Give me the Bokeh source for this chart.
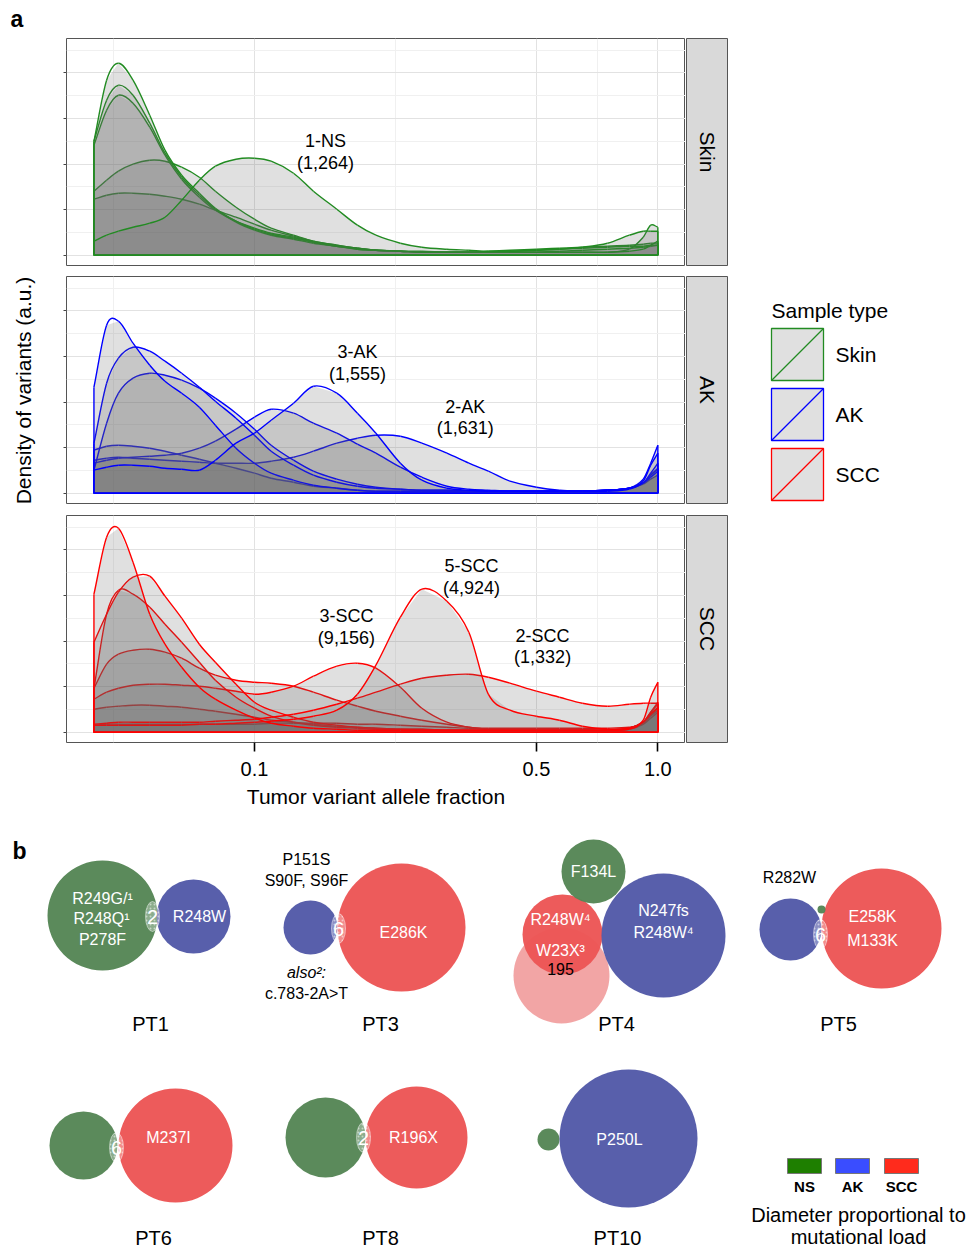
import math
from bokeh.plotting import figure
from bokeh.layouts import row, column
from bokeh.models import Range1d, FixedTicker, Grid, LinearAxis, LogAxis, CustomJSTickFormatter
from bokeh.embed import file_html
from bokeh.resources import INLINE
from bokeh.core.properties import value

FONT = "Liberation Sans"

# ---------------- panel a data (density in arbitrary units) ----------------
vaf_grid = [0.040, 0.043, 0.046, 0.050, 0.055, 0.060, 0.066, 0.073, 0.080, 0.090,
            0.100, 0.110, 0.125, 0.140, 0.160, 0.180, 0.200, 0.230, 0.260, 0.300,
            0.340, 0.380, 0.430, 0.500, 0.570, 0.650, 0.750, 0.850, 0.920, 0.960, 1.000]

skin_a = [14, 20, 24, 28, 32, 38, 55, 75, 89, 96, 97, 94, 82, 64, 46, 30, 20, 12, 8, 6, 5, 4, 4, 5, 6, 8, 12, 20, 24, 24, 24]
skin_b = [114, 175, 192, 175, 140, 105, 80, 62, 47, 34, 26, 21, 17, 13, 9, 6, 5, 4, 3, 3, 3, 3, 3, 3, 3, 3, 3, 4, 6, 10, 14]
skin_c = [114, 155, 170, 160, 132, 102, 78, 60, 46, 33, 25, 20, 16, 12, 9, 6, 5, 4, 4, 3, 3, 3, 3, 3, 4, 5, 6, 7, 8, 9, 10]
skin_d = [110, 145, 160, 152, 128, 100, 76, 58, 45, 34, 27, 22, 18, 13, 9, 7, 5, 4, 3, 3, 3, 3, 4, 5, 6, 7, 8, 9, 9, 10, 10]
skin_e = [64, 75, 84, 91, 95, 94, 88, 78, 64, 48, 36, 27, 20, 14, 10, 7, 5, 4, 3, 3, 3, 3, 3, 3, 3, 3, 3, 6, 18, 30, 28]
skin_f = [56, 60, 62, 62, 61, 59, 56, 51, 45, 38, 31, 25, 19, 14, 10, 7, 5, 4, 3, 3, 3, 4, 5, 6, 7, 8, 9, 10, 11, 12, 12]

ak_a = [106, 168, 172, 150, 128, 112, 100, 86, 68, 45, 30, 20, 13, 8, 5, 3, 2, 2, 2, 2, 2, 2, 2, 2, 2, 2, 3, 5, 10, 16, 22]
ak_b = [50, 110, 135, 146, 142, 132, 120, 106, 92, 75, 58, 42, 28, 18, 11, 7, 5, 4, 3, 3, 2, 2, 2, 2, 2, 2, 3, 5, 10, 20, 30]
ak_c = [23, 70, 100, 115, 120, 118, 113, 105, 95, 80, 64, 48, 33, 22, 14, 9, 6, 4, 3, 3, 2, 2, 2, 2, 2, 2, 3, 5, 10, 18, 25]
ak_d = [23, 26, 28, 28, 27, 25, 24, 23, 33, 50, 60, 73, 90, 107, 100, 80, 60, 30, 13, 5, 3, 2, 2, 2, 2, 2, 2, 4, 12, 28, 40]
ak_e = [30, 33, 35, 36, 37, 38, 40, 45, 52, 64, 76, 84, 80, 70, 60, 49, 40, 26, 16, 7, 4, 3, 2, 2, 2, 2, 3, 5, 10, 18, 24]
ak_f = [33, 35, 36, 35, 34, 33, 32, 31, 30, 30, 30, 32, 36, 42, 50, 55, 58, 57, 50, 40, 30, 22, 12, 6, 3, 2, 3, 5, 14, 30, 48]
ak_g = [43, 47, 48, 47, 45, 42, 38, 34, 30, 25, 20, 15, 11, 7, 5, 3, 2, 2, 2, 2, 2, 2, 2, 2, 2, 2, 3, 5, 9, 14, 18]

scc_a = [138, 195, 204, 170, 118, 88, 65, 45, 33, 22, 14, 9, 6, 4, 3, 2, 2, 2, 2, 2, 2, 2, 2, 2, 2, 2, 2, 3, 12, 35, 50]
scc_b = [90, 118, 140, 155, 156, 136, 114, 88, 70, 48, 30, 22, 15, 10, 7, 5, 4, 3, 3, 2, 2, 2, 2, 2, 2, 2, 2, 4, 10, 18, 25]
scc_c = [44, 118, 142, 138, 125, 108, 90, 70, 52, 35, 24, 16, 10, 7, 5, 4, 3, 3, 2, 2, 2, 2, 2, 2, 2, 2, 2, 4, 10, 20, 28]
scc_d = [44, 68, 78, 82, 83, 80, 74, 64, 57, 52, 50, 49, 46, 40, 32, 26, 21, 16, 12, 8, 5, 3, 2, 2, 2, 2, 2, 4, 10, 20, 30]
scc_e = [33, 40, 44, 47, 48, 48, 47, 46, 44, 41, 38, 40, 46, 56, 66, 69, 64, 45, 24, 10, 5, 3, 2, 2, 2, 2, 2, 4, 10, 18, 24]
scc_f = [7, 7, 7, 7, 7, 7, 7, 8, 8, 9, 10, 11, 13, 16, 22, 38, 67, 115, 143, 131, 100, 38, 22, 16, 12, 6, 3, 4, 10, 18, 24]
scc_g = [8, 9, 10, 10, 10, 10, 10, 10, 11, 12, 13, 15, 18, 22, 28, 34, 40, 48, 54, 57, 58, 55, 49, 41, 35, 29, 26, 28, 29, 29, 29]
scc_i = [23, 25, 26, 27, 27, 26, 25, 23, 21, 18, 15, 12, 10, 8, 6, 5, 4, 3, 3, 2, 2, 2, 2, 2, 2, 2, 2, 3, 8, 16, 22]
scc_j = [7, 8, 8, 8, 8, 8, 8, 8, 8, 8, 8, 9, 9, 9, 9, 8, 8, 7, 6, 5, 4, 4, 4, 4, 4, 4, 4, 5, 8, 14, 20]

skin_curves = [skin_f, skin_e, skin_d, skin_c, skin_b, skin_a]
ak_curves = [ak_g, ak_f, ak_e, ak_c, ak_b, ak_a, ak_d]
scc_curves = [scc_j, scc_i, scc_d, scc_e, scc_c, scc_b, scc_g, scc_f, scc_a]

sample_types = ["Skin", "AK", "SCC"]
sample_colors = ["#228b22", "#0000ff", "#ff0000"]

skin_labels = ["1-NS", "(1,264)"]
skin_label_vaf = [0.150, 0.150]
skin_label_density = [114, 92]
ak_labels = ["3-AK", "(1,555)", "2-AK", "(1,631)"]
ak_label_vaf = [0.180, 0.180, 0.333, 0.333]
ak_label_density = [141, 119, 86, 65]
scc_labels = ["5-SCC", "(4,924)", "3-SCC", "(9,156)", "2-SCC", "(1,332)"]
scc_label_vaf = [0.345, 0.345, 0.169, 0.169, 0.518, 0.518]
scc_label_density = [166, 144, 116, 94, 96, 75]

x_major = [0.1, 0.5, 1.0]
x_minor = [0.0447, 0.2236, 0.7071]
y_major = [0, 45.6, 91.2, 136.8, 182.4]
y_minor = [22.8, 68.4, 114.0, 159.6, 205.2]

# ---------------- panel b data ----------------
venn_patient = ["PT1", "PT1", "PT3", "PT3", "PT4", "PT4", "PT4", "PT4", "PT5", "PT5", "PT5",
                "PT6", "PT6", "PT8", "PT8", "PT10", "PT10"]
venn_sample = ["NS", "AK", "AK", "SCC", "SCC2", "SCC", "NS", "AK", "AK", "SCC", "NS",
               "NS", "SCC", "NS", "SCC", "NS", "AK"]
venn_diameter = [110, 74, 54, 128, 96, 80, 64, 124, 62, 120, 8, 68, 114, 80, 102, 22, 138]
venn_cx = [102, 193, 310, 401, 561, 562, 593, 663, 790, 881, 821, 83, 175, 325, 416, 548, 628]
venn_cy = [915, 916, 927, 927, 975, 934, 871, 935, 929, 928, 909, 1145, 1145, 1137, 1137, 1139, 1138]
venn_colors = {"NS": "#568656", "AK": "#535aa8", "SCC": "#ec5656", "SCC2": "#f2a2a2"}

shared_counts = ["2", "6", "6", "6", "2"]
shared_x = [152, 338, 820, 116, 363]
shared_y = [916, 928, 934, 1147, 1137]

mut_text = ["R249G/\u00b9", "R248Q\u00b9", "P278F", "R248W", "E286K", "F134L", "R248W\u2074",
            "W23X\u00b3", "N247fs", "R248W\u2074", "E258K", "M133K", "M237I", "R196X", "P250L"]
mut_x = [102, 101, 102, 199, 403, 593, 560, 560, 663, 663, 872, 872, 168, 413, 619]
mut_y = [898, 918, 939, 916, 932, 871, 919, 950, 910, 932, 916, 940, 1137, 1137, 1139]

note_text = ["P151S", "S90F, S96F", "c.783-2A>T", "R282W", "195"]
note_x = [306, 306, 306, 789, 560]
note_y = [859, 880, 993, 877, 968]

pt_names = ["PT1", "PT3", "PT4", "PT5", "PT6", "PT8", "PT10"]
pt_x = [150, 380, 616, 838, 153, 380, 617]
pt_y = [1023, 1023, 1023, 1023, 1237, 1237, 1237]

load_types = ["NS", "AK", "SCC"]
load_colors = ["#1e7f00", "#3a4dff", "#ff2b1c"]
load_x = [804, 852, 901]


def base_fig(width, height, xr, yr, **kw):
    p = figure(width=width, height=height, x_range=xr, y_range=yr,
               x_axis_location=None, y_axis_location=None,
               toolbar_location=None, output_backend="svg", **kw)
    p.grid.visible = False
    return p


def hermite_beziers(xs, ys):
    """Smooth rendering of the read points (cubic Hermite drawn as Bezier glyphs, in log-x)."""
    lx = [math.log10(v) for v in xs]
    n = len(lx)
    m = []
    for i in range(n):
        if i == 0:
            m.append((ys[1] - ys[0]) / (lx[1] - lx[0]))
        elif i == n - 1:
            m.append((ys[-1] - ys[-2]) / (lx[-1] - lx[-2]))
        else:
            m.append((ys[i + 1] - ys[i - 1]) / (lx[i + 1] - lx[i - 1]))
    seg = dict(x0=[], y0=[], x1=[], y1=[], cx0=[], cy0=[], cx1=[], cy1=[])
    for i in range(n - 1):
        h = lx[i + 1] - lx[i]
        seg["x0"].append(xs[i]); seg["y0"].append(ys[i])
        seg["x1"].append(xs[i + 1]); seg["y1"].append(ys[i + 1])
        seg["cx0"].append(10 ** (lx[i] + h / 3)); seg["cy0"].append(max(0, ys[i] + m[i] * h / 3))
        seg["cx1"].append(10 ** (lx[i + 1] - h / 3)); seg["cy1"].append(max(0, ys[i + 1] - m[i + 1] * h / 3))
    return seg


def facet(curves, color, labels, lx, ly, top, bottom, with_xaxis):
    p = figure(width=631, height=top + 227 + bottom, x_axis_type="log",
               x_axis_location=None, y_axis_location=None,
               x_range=Range1d(0.0342, 1.171), y_range=Range1d(-10.3, 216.7),
               toolbar_location=None, output_backend="svg",
               min_border_left=12, min_border_right=0,
               min_border_top=top, min_border_bottom=bottom,
               outline_line_color="#555555", outline_line_width=1)
    p.grid.visible = False
    xt = FixedTicker(ticks=x_major, minor_ticks=x_minor)
    yt = FixedTicker(ticks=y_major, minor_ticks=y_minor)
    p.add_layout(Grid(dimension=0, ticker=xt, grid_line_color="#e2e2e2",
                      minor_grid_line_color="#f0f0f0"))
    p.add_layout(Grid(dimension=1, ticker=yt, grid_line_color="#e2e2e2",
                      minor_grid_line_color="#f0f0f0"))
    yax = LinearAxis(ticker=yt, formatter=CustomJSTickFormatter(code="return ''"),
                     major_tick_out=3, major_tick_in=0, minor_tick_out=0, minor_tick_in=0,
                     axis_line_color=None, major_label_standoff=0,
                     major_tick_line_color="#444444")
    p.add_layout(yax, "left")
    for c in curves:
        xs = vaf_grid + [vaf_grid[-1], vaf_grid[0]]
        ys = c + [0, 0]
        p.patch(xs, ys, fill_color="#666666", fill_alpha=0.2, line_color=None)
        p.bezier(line_color=color, line_width=1.4, **hermite_beziers(vaf_grid, c))
        p.segment(x0=[vaf_grid[0], vaf_grid[-1], vaf_grid[0]], y0=[0, 0, 0],
                  x1=[vaf_grid[0], vaf_grid[-1], vaf_grid[-1]], y1=[c[0], c[-1], 0],
                  line_color=color, line_width=1.4)
    p.text(x=lx, y=ly, text=labels, text_align="center", text_baseline="middle",
           text_font=value(FONT), text_font_size="18px", text_color="black")
    if with_xaxis:
        ax = LogAxis(ticker=xt, formatter=CustomJSTickFormatter(code="return tick.toFixed(1)"),
                     axis_label="Tumor variant allele fraction", axis_line_color=None,
                     major_tick_out=9, major_tick_in=0, minor_tick_out=0, minor_tick_in=0,
                     major_tick_line_width=1.6, major_tick_line_color="black",
                     major_label_standoff=10, axis_label_standoff=6,
                     major_label_text_font=FONT, major_label_text_font_size="20px",
                     major_label_text_color="black",
                     axis_label_text_font=FONT, axis_label_text_font_size="21px",
                     axis_label_text_font_style="normal", axis_label_text_color="black")
        p.add_layout(ax, "below")
    return p


def strip(name, top, bottom):
    s = base_fig(43, top + 227 + bottom, Range1d(0, 1), Range1d(0, 1),
                 min_border_left=1, min_border_right=0,
                 min_border_top=top, min_border_bottom=bottom,
                 background_fill_color="#d9d9d9", outline_line_color="#555555")
    s.text(x=[0.5], y=[0.5], text=[name], angle=-math.pi / 2, text_align="center",
           text_baseline="middle", text_font=value(FONT), text_font_size="21px",
           text_color="black")
    return s


f1 = facet(skin_curves, sample_colors[0], skin_labels, skin_label_vaf, skin_label_density, 38, 5, False)
f2 = facet(ak_curves, sample_colors[1], ak_labels, ak_label_vaf, ak_label_density, 6, 6, False)
f3 = facet(scc_curves, sample_colors[2], scc_labels, scc_label_vaf, scc_label_density, 6, 68, True)
s1 = strip(sample_types[0], 38, 5)
s2 = strip(sample_types[1], 6, 6)
s3 = strip(sample_types[2], 6, 68)

# left side: panel letter and y title
left = base_fig(54, 810, Range1d(0, 54), Range1d(810, 0), min_border=0, outline_line_color=None)
left.text(x=[10], y=[18], text=["a"], text_align="left", text_baseline="middle",
          text_font=value(FONT), text_font_size="23px", text_font_style="bold", text_color="black")
left.text(x=[23], y=[390], text=["Density of variants (a.u.)"], angle=math.pi / 2,
          text_align="center", text_baseline="middle", text_font=value(FONT),
          text_font_size="21px", text_color="black")

# legend on the right
leg = base_fig(244, 810, Range1d(728, 972), Range1d(810, 0), min_border=0, outline_line_color=None)
leg.text(x=[771], y=[310], text=["Sample type"], text_align="left", text_baseline="middle",
         text_font=value(FONT), text_font_size="21px", text_color="black")
key_top = [328 + 60 * i for i in range(len(sample_types))]
key_bot = [t + 52 for t in key_top]
leg.quad(left=[771] * 3, right=[823] * 3, top=key_top, bottom=key_bot,
         fill_color="#666666", fill_alpha=0.2, line_color=sample_colors, line_width=1.3)
leg.segment(x0=[771] * 3, y0=key_bot, x1=[823] * 3, y1=key_top,
            line_color=sample_colors, line_width=1.3)
leg.text(x=[835] * 3, y=[t + 26 for t in key_top], text=sample_types, text_align="left",
         text_baseline="middle", text_font=value(FONT), text_font_size="21px", text_color="black")

# panel b
pb = base_fig(972, 440, Range1d(0, 972), Range1d(1250, 810), min_border=0, outline_line_color=None)
pb.text(x=[12], y=[850], text=["b"], text_align="left", text_baseline="middle",
        text_font=value(FONT), text_font_size="23px", text_font_style="bold", text_color="black")
pb.circle(x=venn_cx, y=venn_cy, radius=[d / 2 for d in venn_diameter],
          fill_color=[venn_colors[s] for s in venn_sample], line_color=None, fill_alpha=0.97)
pb.ellipse(x=shared_x, y=shared_y, width=14, height=30, fill_color="white", fill_alpha=0.3,
           line_color="white", line_alpha=0.45, line_width=1, hatch_pattern="dot",
           hatch_color="white", hatch_alpha=0.5, hatch_scale=4)
pb.text(x=shared_x, y=shared_y, text=shared_counts, text_align="center", text_baseline="middle",
        text_font=value(FONT), text_font_size="20px", text_color="white")
pb.text(x=mut_x, y=mut_y, text=mut_text, text_align="center", text_baseline="middle",
        text_font=value(FONT), text_font_size="16px", text_color="white")
pb.text(x=note_x, y=note_y, text=note_text, text_align="center", text_baseline="middle",
        text_font=value(FONT), text_font_size="16px", text_color="black")
pb.text(x=[306], y=[972], text=["also\u00b2:"], text_align="center", text_baseline="middle",
        text_font=value(FONT), text_font_size="16px", text_font_style="italic", text_color="black")
pb.text(x=pt_x, y=pt_y, text=pt_names, text_align="center", text_baseline="middle",
        text_font=value(FONT), text_font_size="20px", text_color="black")
pb.rect(x=load_x, y=[1165.5] * 3, width=34, height=15, fill_color=load_colors,
        line_color="#777777", line_width=1)
pb.text(x=load_x, y=[1186] * 3, text=load_types, text_align="center", text_baseline="middle",
        text_font=value(FONT), text_font_size="15px", text_font_style="bold", text_color="black")
pb.text(x=[858, 858], y=[1214, 1236], text=["Diameter proportional to", "mutational load"],
        text_align="center", text_baseline="middle", text_font=value(FONT),
        text_font_size="20px", text_color="black")

panel_a = row(left, column(row(f1, s1), row(f2, s2), row(f3, s3)), leg)
layout = column(panel_a, pb)

open("out.html", "w").write(file_html(layout, INLINE))
